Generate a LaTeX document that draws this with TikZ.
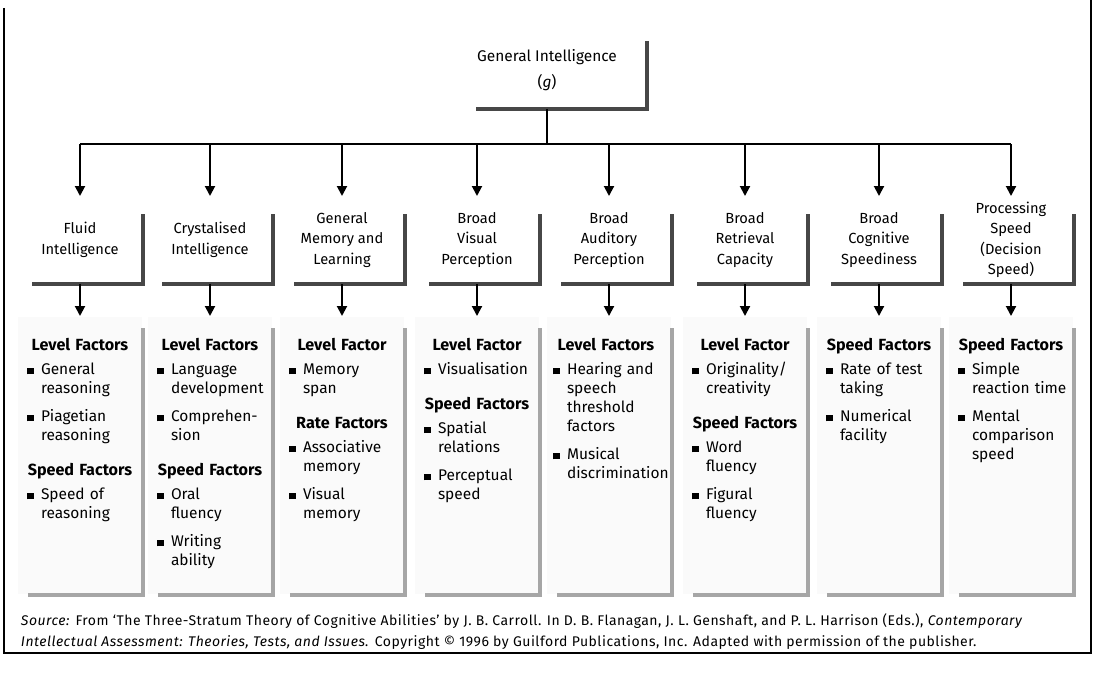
\documentclass[tikz,border=0pt]{standalone}
\usepackage{fontspec}
\setmainfont{Fira Sans}
\usetikzlibrary{arrows.meta, positioning}

\newcommand{\fhead}[1]{\makebox[\hsize][c]{\fontsize{12.1}{14.25}\selectfont\bfseries #1}}
\newcommand{\fitem}[1]{\makebox[10.5pt][l]{\rule{5pt}{5pt}}\mbox{#1}}
\newcommand{\fnext}[1]{\hspace*{10.5pt}\mbox{#1}}
\newcommand{\headgap}{3.75pt}
\newcommand{\itemgap}{6.75pt}
\newcommand{\groupgap}{12pt}

\begin{document}
\begin{tikzpicture}[x=0.75pt, y=-0.75pt, line width=1.5pt,
    broad/.style={align=center, font=\fontsize{11}{15.4}\selectfont, inner sep=0pt,
      minimum width=93pt, minimum height=64.5pt},
    factorbox/.style={fill=black!2, inner sep=0pt, minimum width=93pt, minimum height=207.75pt},
    factorlist/.style={align=left, anchor=north west, inner sep=0pt, text width=79.5pt,
      font=\fontsize{11.6}{14.25}\selectfont},
    shadowedge/.style={draw=black!72, line width=3.5pt},
    faintedge/.style={draw=black!35, line width=2.5pt},
    branch/.style={-{Triangle[width=7.5pt,length=7.5pt]}, line width=1.5pt}]
    \useasboundingbox (0,0) rectangle (1105,674);
    \draw (4,8) -- (4,653) -- (1091,653) -- (1091,0);

    \node[broad, font=\fontsize{11.6}{15.4}\selectfont, minimum width=148.5pt, minimum height=57pt] (gi) at (547,70)
        {General Intelligence\\[4.5pt](\textit{g})};
    \draw[shadowedge] ([yshift=-7.5pt]gi.north east) -- (gi.south east) -- ([xshift=21.75pt]gi.south west);

    \node[broad] (fluid) at (80,240) {Fluid\\Intelligence};
    \node[broad] (cryst) at (210,240) {Crystalised\\Intelligence};
    \node[broad] (memory) at (342,240) {General\\Memory and\\Learning};
    \node[broad] (visual) at (477,240) {Broad\\Visual\\Perception};
    \node[broad] (auditory) at (609,240) {Broad\\Auditory\\Perception};
    \node[broad] (retrieval) at (745,240) {Broad\\Retrieval\\Capacity};
    \node[broad] (cogspeed) at (879,240) {Broad\\Cognitive\\Speediness};
    \node[broad] (procspeed) at (1011,240) {Processing\\Speed\\(Decision\\Speed)};

    \coordinate (bus) at (547,144);
    \draw (gi.south) -- (bus);
    \draw (fluid.north |- bus) -- (procspeed.north |- bus);

    \foreach \b in {fluid,cryst,memory,visual,auditory,retrieval,cogspeed,procspeed}
        \node[factorbox, below=24pt of \b] (\b-box) {};

    \node[factorlist] (fluid-list) at ([xshift=6.75pt, yshift=-15.75pt]fluid-box.north west) {%
        \fhead{Level Factors}\\[\headgap]
        \fitem{General}\\ \fnext{reasoning}\\[\itemgap]
        \fitem{Piagetian}\\ \fnext{reasoning}\\[\groupgap]
        \fhead{Speed Factors}\\[\headgap]
        \fitem{Speed of}\\ \fnext{reasoning}};
    \node[factorlist] (cryst-list) at ([xshift=6.75pt, yshift=-15.75pt]cryst-box.north west) {%
        \fhead{Level Factors}\\[\headgap]
        \fitem{Language}\\ \fnext{development}\\[\itemgap]
        \fitem{Comprehen-}\\ \fnext{sion}\\[\groupgap]
        \fhead{Speed Factors}\\[\headgap]
        \fitem{Oral}\\ \fnext{fluency}\\[\itemgap]
        \fitem{Writing}\\ \fnext{ability}};
    \node[factorlist] (memory-list) at ([xshift=6.75pt, yshift=-15.75pt]memory-box.north west) {%
        \fhead{Level Factor}\\[\headgap]
        \fitem{Memory}\\ \fnext{span}\\[\groupgap]
        \fhead{Rate Factors}\\[\headgap]
        \fitem{Associative}\\ \fnext{memory}\\[\itemgap]
        \fitem{Visual}\\ \fnext{memory}};
    \node[factorlist] (visual-list) at ([xshift=6.75pt, yshift=-15.75pt]visual-box.north west) {%
        \fhead{Level Factor}\\[\headgap]
        \fitem{Visualisation}\\[\groupgap]
        \fhead{Speed Factors}\\[\headgap]
        \fitem{Spatial}\\ \fnext{relations}\\[\itemgap]
        \fitem{Perceptual}\\ \fnext{speed}};
    \node[factorlist] (auditory-list) at ([xshift=4.5pt, yshift=-15.75pt]auditory-box.north west) {%
        \fhead{Level Factors}\\[\headgap]
        \fitem{Hearing and}\\ \fnext{speech}\\ \fnext{threshold}\\ \fnext{factors}\\[\itemgap]
        \fitem{Musical}\\ \fnext{discrimination}};
    \node[factorlist] (retrieval-list) at ([xshift=6.75pt, yshift=-15.75pt]retrieval-box.north west) {%
        \fhead{Level Factor}\\[\headgap]
        \fitem{Originality/}\\ \fnext{creativity}\\[\groupgap]
        \fhead{Speed Factors}\\[\headgap]
        \fitem{Word}\\ \fnext{fluency}\\[\itemgap]
        \fitem{Figural}\\ \fnext{fluency}};
    \node[factorlist] (cogspeed-list) at ([xshift=6.75pt, yshift=-15.75pt]cogspeed-box.north west) {%
        \fhead{Speed Factors}\\[\headgap]
        \fitem{Rate of test}\\ \fnext{taking}\\[\itemgap]
        \fitem{Numerical}\\ \fnext{facility}};
    \node[factorlist] (procspeed-list) at ([xshift=6.75pt, yshift=-15.75pt]procspeed-box.north west) {%
        \fhead{Speed Factors}\\[\headgap]
        \fitem{Simple}\\ \fnext{reaction time}\\[\itemgap]
        \fitem{Mental}\\ \fnext{comparison}\\ \fnext{speed}};

    \foreach \b in {fluid,cryst,memory,visual,auditory,retrieval,cogspeed,procspeed} {
        \draw[branch] (\b.north |- bus) -- (\b.north);
        \draw[shadowedge] ([yshift=-13.5pt]\b.north east) -- (\b.south east) -- ([xshift=11.25pt]\b.south west);
        \draw[faintedge] ([yshift=-9pt]\b-box.north east) -- (\b-box.south east) -- ([xshift=8.25pt]\b-box.south west);
        \draw[branch] (\b.south) -- (\b-box.north);
    }

    \node[anchor=north west, align=left, inner sep=0pt,
        font=\fontsize{10.5}{15.4}\selectfont\addfontfeatures{LetterSpace=3.5}] (source) at (20,613)
        {\textit{Source:} From ‘The Three-Stratum Theory of Cognitive Abilities’ by J. B. Carroll. In D. B. Flanagan, J. L. Genshaft, and P. L. Harrison (Eds.), \textit{Contemporary}\\
        \textit{Intellectual Assessment: Theories, Tests, and Issues.} Copyright © 1996 by Guilford Publications, Inc. Adapted with permission of the publisher.};
\end{tikzpicture}
\end{document}
